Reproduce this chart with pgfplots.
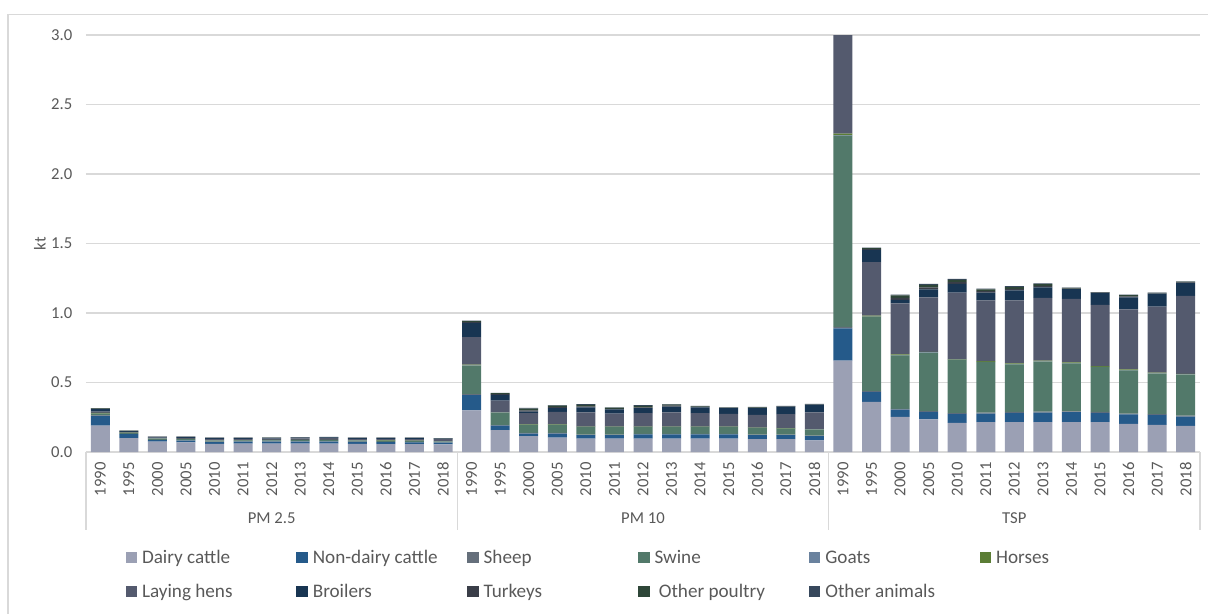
\documentclass[border=0pt]{standalone}
\usepackage{fontspec}
\setmainfont{Carlito}
\usepackage{pgfplots}
\usepackage{pgfplotstable}
\pgfplotsset{compat=1.18}
\definecolor{cDairy}{HTML}{9BA0B4}
\definecolor{cNDairy}{HTML}{255A8A}
\definecolor{cSheep}{HTML}{656F7B}
\definecolor{cSwine}{HTML}{52796A}
\definecolor{cGoats}{HTML}{6A829E}
\definecolor{cHorses}{HTML}{5B7D35}
\definecolor{cHens}{HTML}{545A6E}
\definecolor{cBroil}{HTML}{183552}
\definecolor{cTurk}{HTML}{3A3E48}
\definecolor{cOPoul}{HTML}{2E4638}
\definecolor{cOAnim}{HTML}{37485C}
\definecolor{gridgray}{HTML}{D9D9D9}
\definecolor{txtgray}{HTML}{595959}

% x: 0-12 PM 2.5, 13-25 PM 10, 26-38 TSP (years 1990,1995,2000,2005,2010-2018)
\pgfplotstableread{
x  dc    ndc   sh    sw    go    ho    lh    br    tu    op    oa
0  0.190 0.070 0.004 0.012 0.001 0.004 0.010 0.018 0.002 0.003 0.001
1  0.099 0.029 0.002 0.007 0.001 0.002 0.005 0.006 0.001 0.001 0.001
2  0.075 0.010 0.002 0.008 0.001 0.002 0.006 0.003 0.001 0.001 0.001
3  0.070 0.012 0.002 0.008 0.001 0.002 0.007 0.005 0.001 0.001 0.001
4  0.058 0.014 0.002 0.007 0.001 0.002 0.010 0.006 0.001 0.001 0.001
5  0.061 0.013 0.002 0.007 0.001 0.002 0.009 0.005 0.001 0.001 0.001
6  0.061 0.014 0.002 0.007 0.001 0.002 0.009 0.005 0.001 0.001 0.001
7  0.061 0.014 0.002 0.008 0.001 0.002 0.010 0.006 0.001 0.001 0.001
8  0.061 0.014 0.002 0.008 0.001 0.002 0.011 0.006 0.001 0.001 0.001
9  0.059 0.014 0.002 0.007 0.001 0.002 0.010 0.005 0.001 0.001 0.001
10 0.057 0.014 0.002 0.007 0.001 0.002 0.011 0.006 0.001 0.001 0.001
11 0.056 0.014 0.002 0.007 0.001 0.002 0.011 0.007 0.001 0.001 0.001
12 0.055 0.012 0.002 0.006 0.001 0.002 0.015 0.003 0.001 0.001 0.001
13 0.299 0.110 0.008 0.205 0.002 0.005 0.197 0.103 0.006 0.007 0.004
14 0.157 0.033 0.004 0.088 0.001 0.003 0.084 0.041 0.005 0.007 0.003
15 0.114 0.019 0.004 0.058 0.001 0.002 0.081 0.012 0.008 0.014 0.005
16 0.104 0.029 0.004 0.058 0.001 0.002 0.091 0.026 0.008 0.010 0.004
17 0.097 0.024 0.004 0.055 0.001 0.002 0.103 0.036 0.007 0.010 0.005
18 0.097 0.024 0.004 0.055 0.001 0.002 0.094 0.029 0.005 0.008 0.003
19 0.097 0.029 0.004 0.050 0.001 0.002 0.096 0.036 0.007 0.010 0.005
20 0.097 0.029 0.004 0.050 0.001 0.002 0.103 0.041 0.006 0.008 0.003
21 0.097 0.029 0.004 0.050 0.001 0.002 0.096 0.043 0.003 0.004 0.003
22 0.097 0.029 0.004 0.050 0.001 0.002 0.091 0.041 0.002 0.003 0.002
23 0.092 0.029 0.004 0.048 0.001 0.002 0.092 0.047 0.003 0.004 0.003
24 0.092 0.029 0.004 0.043 0.001 0.002 0.101 0.055 0.002 0.002 0.001
25 0.083 0.031 0.004 0.043 0.001 0.002 0.122 0.054 0.002 0.003 0.002
26 0.657 0.232 0.012 1.375 0.003 0.012 0.709 0.000 0.000 0.000 0.000
27 0.360 0.072 0.006 0.534 0.002 0.008 0.384 0.089 0.005 0.007 0.003
28 0.253 0.052 0.006 0.384 0.002 0.005 0.368 0.024 0.014 0.018 0.006
29 0.234 0.055 0.006 0.419 0.002 0.005 0.392 0.057 0.015 0.017 0.007
30 0.210 0.064 0.006 0.382 0.002 0.005 0.478 0.062 0.014 0.015 0.007
31 0.215 0.062 0.006 0.364 0.002 0.005 0.436 0.057 0.011 0.012 0.006
32 0.215 0.067 0.006 0.343 0.002 0.005 0.452 0.073 0.010 0.014 0.007
33 0.215 0.069 0.006 0.360 0.002 0.005 0.451 0.077 0.010 0.013 0.006
34 0.215 0.072 0.006 0.345 0.002 0.005 0.456 0.070 0.004 0.005 0.003
35 0.215 0.067 0.006 0.323 0.002 0.005 0.440 0.086 0.002 0.003 0.002
36 0.203 0.067 0.006 0.311 0.002 0.005 0.433 0.086 0.006 0.009 0.004
37 0.196 0.071 0.006 0.291 0.002 0.005 0.475 0.093 0.002 0.003 0.002
38 0.188 0.067 0.006 0.295 0.002 0.005 0.560 0.093 0.004 0.005 0.003
}\data

\newcommand{\legtxt}[1]{\makebox[95.6pt][l]{\hspace{3pt}#1}}

\begin{document}
\begin{tikzpicture}
\useasboundingbox (-51.6pt,-96.6pt) rectangle (673.2pt,271.2pt);
\draw[color=gridgray, line width=0.8pt] (-46.8pt,-98pt) -- (-46.8pt,262.4pt) -- (675pt,262.4pt);
\begin{axis}[
  scale only axis,
  width=668.4pt, height=250.2pt,
  ybar stacked, bar width=11.4pt,
  xmin=-0.5, xmax=38.5, ymin=0, ymax=3,
  enlarge x limits=false, enlarge y limits=false,
  clip=false,
  axis x line*=bottom, axis y line*=left,
  x axis line style={color=gridgray, line width=0.8pt, -},
  y axis line style={draw=none},
  ytick={0,0.5,1,1.5,2,2.5,3},
  /pgf/number format/fixed, /pgf/number format/fixed zerofill,
  /pgf/number format/precision=1, /pgf/number format/assume math mode=true,
  yticklabel style={font=\fontsize{10}{12}\selectfont, text=txtgray, inner sep=0pt},
  yticklabel shift=8pt,
  ymajorgrids, grid style={color=gridgray, line width=0.9pt},
  major tick length=0pt,
  xtick={0,...,38},
  xticklabels={1990,1995,2000,2005,2010,2011,2012,2013,2014,2015,2016,2017,2018,
               1990,1995,2000,2005,2010,2011,2012,2013,2014,2015,2016,2017,2018,
               1990,1995,2000,2005,2010,2011,2012,2013,2014,2015,2016,2017,2018},
  xticklabel style={rotate=90, anchor=east, inner sep=0pt, font=\fontsize{10}{12}\selectfont, text=txtgray},
  xticklabel shift=6pt,
  ylabel={kt},
  every axis y label/.style={at={(axis description cs:-0.0413,0.5)}, rotate=90, anchor=center, font=\fontsize{10}{12}\selectfont, text=txtgray},
  legend columns=6,
  legend image code/.code={\fill[#1] (-0.3pt,0pt) rectangle (6.6pt,6.8pt);},
  legend style={at={(axis description cs:0,0)}, anchor=north west, xshift=23.5pt, yshift=-58.5pt,
    draw=none, fill=none, inner sep=0pt, row sep=10.9pt,
    nodes={inner sep=0pt, anchor=base west},
    font=\fontsize{11.5}{13}\selectfont, text=txtgray,
    /tikz/every even column/.append style={column sep=0pt}},
  legend cell align=left,
]
\addplot[fill=cDairy, draw=none] table[x=x,y=dc]{\data}; \addlegendentry{\legtxt{Dairy cattle}}
\addplot[fill=cNDairy, draw=none] table[x=x,y=ndc]{\data}; \addlegendentry{\legtxt{Non-dairy cattle}}
\addplot[fill=cSheep, draw=none] table[x=x,y=sh]{\data}; \addlegendentry{\legtxt{Sheep}}
\addplot[fill=cSwine, draw=none] table[x=x,y=sw]{\data}; \addlegendentry{\legtxt{Swine}}
\addplot[fill=cGoats, draw=none] table[x=x,y=go]{\data}; \addlegendentry{\legtxt{Goats}}
\addplot[fill=cHorses, draw=none] table[x=x,y=ho]{\data}; \addlegendentry{\legtxt{Horses}}
\addplot[fill=cHens, draw=none] table[x=x,y=lh]{\data}; \addlegendentry{\legtxt{Laying hens}}
\addplot[fill=cBroil, draw=none] table[x=x,y=br]{\data}; \addlegendentry{\legtxt{Broilers}}
\addplot[fill=cTurk, draw=none] table[x=x,y=tu]{\data}; \addlegendentry{\legtxt{Turkeys}}
\addplot[fill=cOPoul, draw=none] table[x=x,y=op]{\data}; \addlegendentry{\legtxt{\ Other poultry}}
\addplot[fill=cOAnim, draw=none] table[x=x,y=oa]{\data}; \addlegendentry{\legtxt{Other animals}}
\draw[color=gridgray, line width=0.8pt] (axis cs:-0.5,0) -- ([yshift=-46.8pt]axis cs:-0.5,0);
\draw[color=gridgray, line width=0.8pt] (axis cs:12.5,0) -- ([yshift=-46.8pt]axis cs:12.5,0);
\draw[color=gridgray, line width=0.8pt] (axis cs:25.5,0) -- ([yshift=-46.8pt]axis cs:25.5,0);
\draw[color=gridgray, line width=0.8pt] (axis cs:38.5,0) -- ([yshift=-46.8pt]axis cs:38.5,0);
\node[font=\fontsize{10}{12}\selectfont, text=txtgray] at ([yshift=-39.6pt]axis cs:6,0) {PM 2.5};
\node[font=\fontsize{10}{12}\selectfont, text=txtgray] at ([yshift=-39.6pt]axis cs:19,0) {PM 10};
\node[font=\fontsize{10}{12}\selectfont, text=txtgray] at ([yshift=-39.6pt]axis cs:32,0) {TSP};
\end{axis}
\end{tikzpicture}
\end{document}
